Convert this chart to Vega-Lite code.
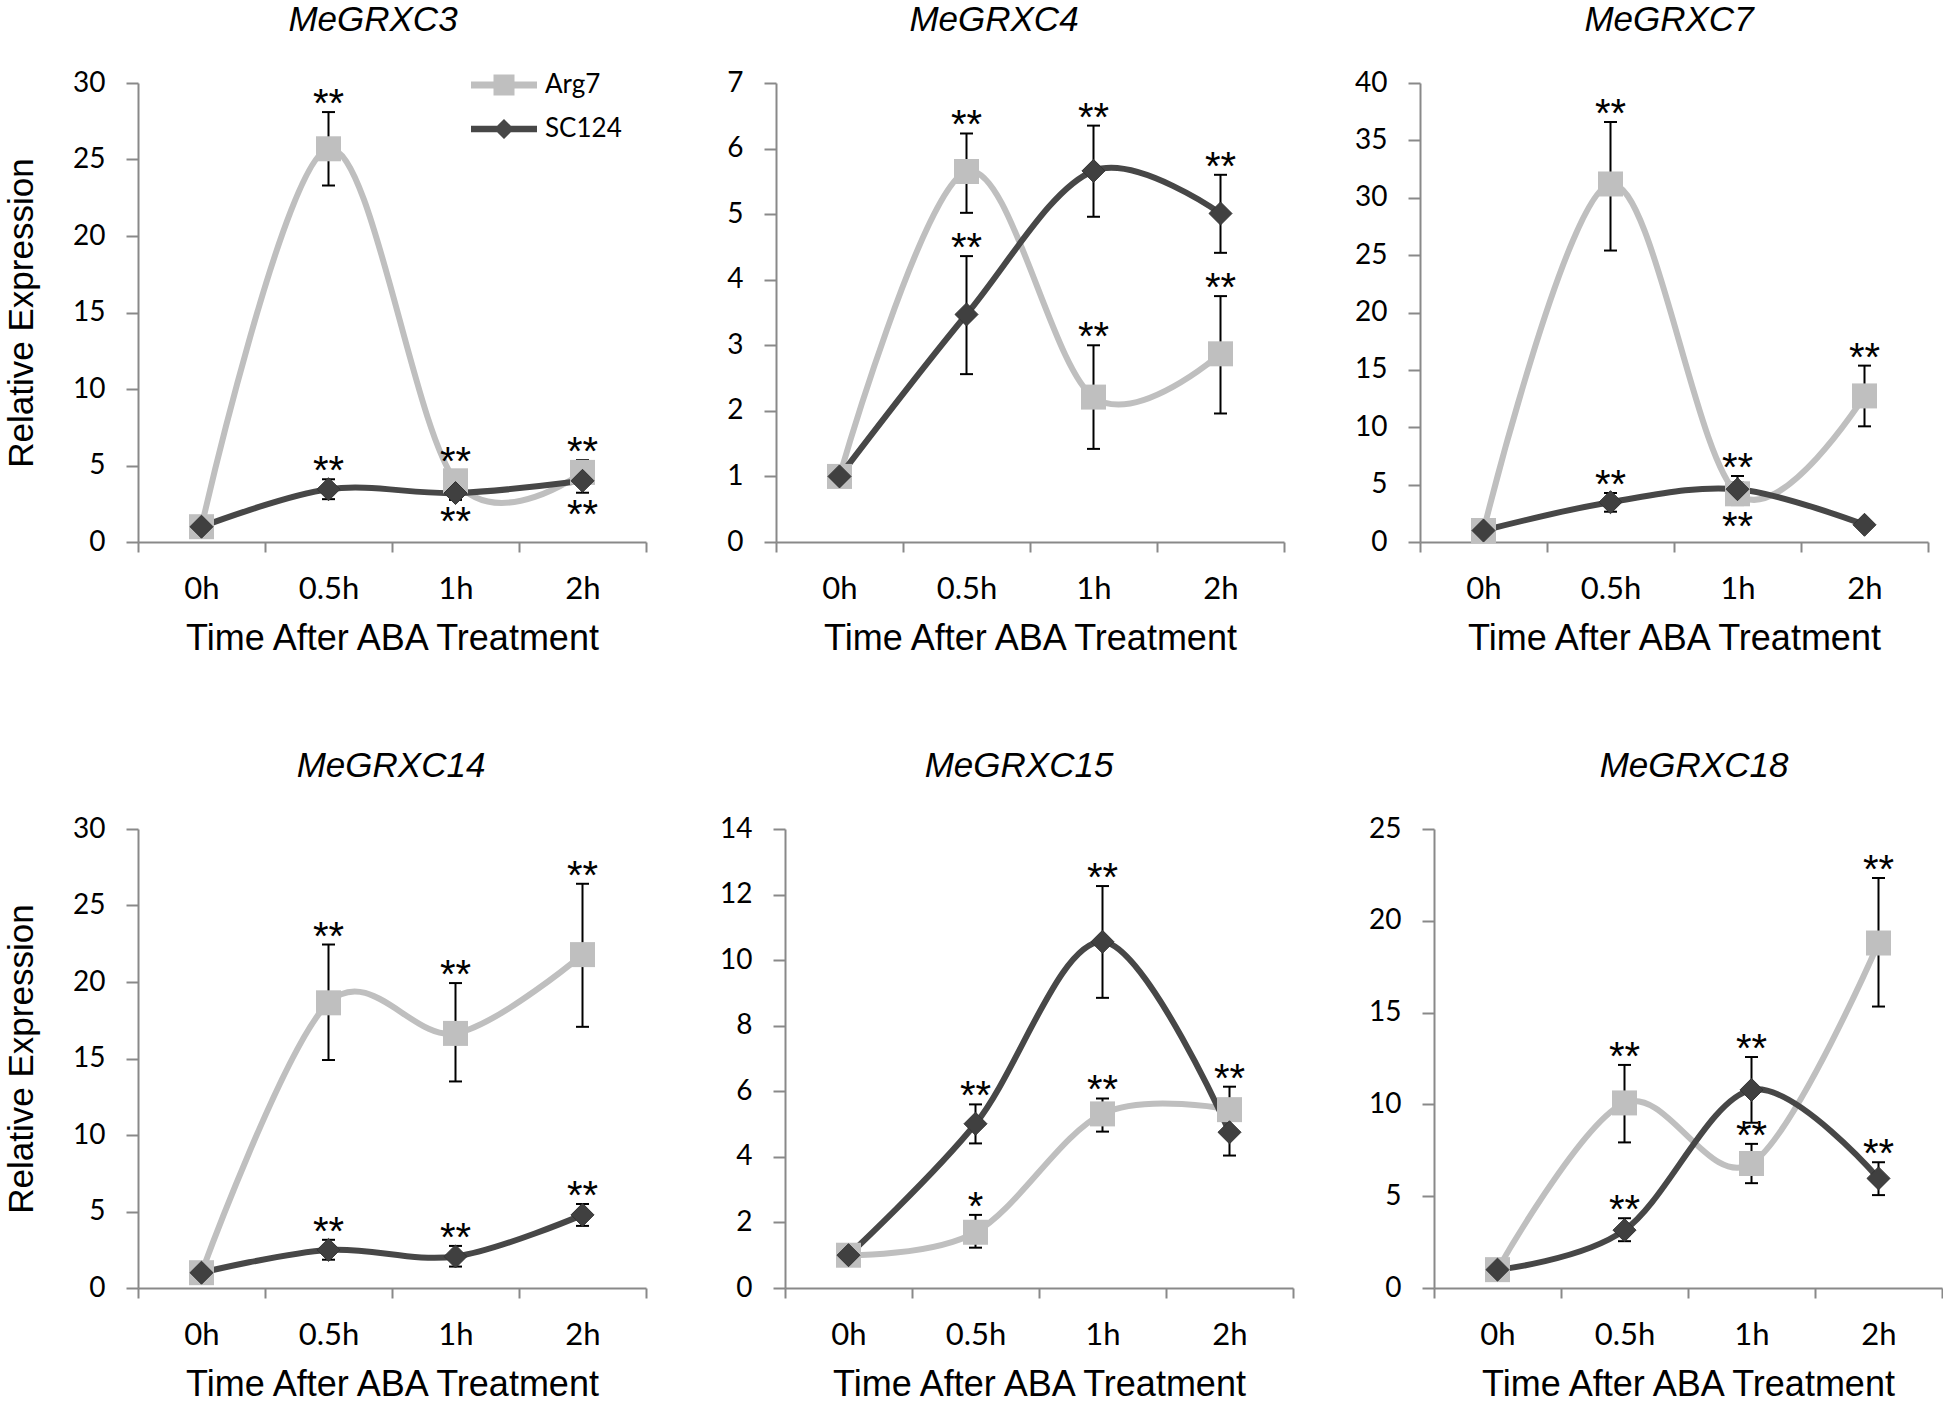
{
  "$schema": "https://vega.github.io/schema/vega-lite/v6.json",
  "padding": {"left": 4, "top": 3, "right": 0, "bottom": 0},
  "background": "white",
  "data": {"values": [
    {"gene": "MeGRXC3", "time": "0h", "series": "Arg7", "mean": 1.0},
    {"gene": "MeGRXC3", "time": "0.5h", "series": "Arg7", "mean": 25.7, "lo": 23.3, "hi": 28.1, "sig": "**", "sigpos": "above"},
    {"gene": "MeGRXC3", "time": "1h", "series": "Arg7", "mean": 4.0, "lo": 3.3, "hi": 4.7, "sig": "**", "sigpos": "above"},
    {"gene": "MeGRXC3", "time": "2h", "series": "Arg7", "mean": 4.55, "lo": 3.75, "hi": 5.35, "sig": "**", "sigpos": "above"},
    {"gene": "MeGRXC3", "time": "0h", "series": "SC124", "mean": 1.0},
    {"gene": "MeGRXC3", "time": "0.5h", "series": "SC124", "mean": 3.45, "lo": 2.8, "hi": 4.1, "sig": "**", "sigpos": "above"},
    {"gene": "MeGRXC3", "time": "1h", "series": "SC124", "mean": 3.2, "lo": 2.75, "hi": 3.65, "sig": "**", "sigpos": "below"},
    {"gene": "MeGRXC3", "time": "2h", "series": "SC124", "mean": 4.0, "lo": 3.22, "hi": 4.78, "sig": "**", "sigpos": "below"},

    {"gene": "MeGRXC4", "time": "0h", "series": "Arg7", "mean": 1.0},
    {"gene": "MeGRXC4", "time": "0.5h", "series": "Arg7", "mean": 5.65, "lo": 5.02, "hi": 6.23, "sig": "**", "sigpos": "above"},
    {"gene": "MeGRXC4", "time": "1h", "series": "Arg7", "mean": 2.21, "lo": 1.42, "hi": 3.0, "sig": "**", "sigpos": "above"},
    {"gene": "MeGRXC4", "time": "2h", "series": "Arg7", "mean": 2.87, "lo": 1.96, "hi": 3.75, "sig": "**", "sigpos": "above"},
    {"gene": "MeGRXC4", "time": "0h", "series": "SC124", "mean": 1.0},
    {"gene": "MeGRXC4", "time": "0.5h", "series": "SC124", "mean": 3.47, "lo": 2.56, "hi": 4.36, "sig": "**", "sigpos": "above"},
    {"gene": "MeGRXC4", "time": "1h", "series": "SC124", "mean": 5.66, "lo": 4.96, "hi": 6.35, "sig": "**", "sigpos": "above"},
    {"gene": "MeGRXC4", "time": "2h", "series": "SC124", "mean": 5.01, "lo": 4.41, "hi": 5.6, "sig": "**", "sigpos": "above"},

    {"gene": "MeGRXC7", "time": "0h", "series": "Arg7", "mean": 1.0},
    {"gene": "MeGRXC7", "time": "0.5h", "series": "Arg7", "mean": 31.2, "lo": 25.4, "hi": 36.6, "sig": "**", "sigpos": "above"},
    {"gene": "MeGRXC7", "time": "1h", "series": "Arg7", "mean": 4.2, "lo": 3.22, "hi": 5.18, "sig": "**", "sigpos": "below"},
    {"gene": "MeGRXC7", "time": "2h", "series": "Arg7", "mean": 12.73, "lo": 10.08, "hi": 15.37, "sig": "**", "sigpos": "above"},
    {"gene": "MeGRXC7", "time": "0h", "series": "SC124", "mean": 1.0},
    {"gene": "MeGRXC7", "time": "0.5h", "series": "SC124", "mean": 3.47, "lo": 2.64, "hi": 4.27, "sig": "**", "sigpos": "above"},
    {"gene": "MeGRXC7", "time": "1h", "series": "SC124", "mean": 4.6, "lo": 3.45, "hi": 5.75, "sig": "**", "sigpos": "above"},
    {"gene": "MeGRXC7", "time": "2h", "series": "SC124", "mean": 1.5},

    {"gene": "MeGRXC14", "time": "0h", "series": "Arg7", "mean": 1.0},
    {"gene": "MeGRXC14", "time": "0.5h", "series": "Arg7", "mean": 18.64, "lo": 14.9, "hi": 22.45, "sig": "**", "sigpos": "above"},
    {"gene": "MeGRXC14", "time": "1h", "series": "Arg7", "mean": 16.64, "lo": 13.5, "hi": 19.93, "sig": "**", "sigpos": "above"},
    {"gene": "MeGRXC14", "time": "2h", "series": "Arg7", "mean": 21.79, "lo": 17.07, "hi": 26.42, "sig": "**", "sigpos": "above"},
    {"gene": "MeGRXC14", "time": "0h", "series": "SC124", "mean": 1.0},
    {"gene": "MeGRXC14", "time": "0.5h", "series": "SC124", "mean": 2.49, "lo": 1.85, "hi": 3.15, "sig": "**", "sigpos": "above"},
    {"gene": "MeGRXC14", "time": "1h", "series": "SC124", "mean": 2.06, "lo": 1.4, "hi": 2.75, "sig": "**", "sigpos": "above"},
    {"gene": "MeGRXC14", "time": "2h", "series": "SC124", "mean": 4.78, "lo": 4.06, "hi": 5.49, "sig": "**", "sigpos": "above"},

    {"gene": "MeGRXC15", "time": "0h", "series": "Arg7", "mean": 1.0},
    {"gene": "MeGRXC15", "time": "0.5h", "series": "Arg7", "mean": 1.7, "lo": 1.23, "hi": 2.23, "sig": "*", "sigpos": "above"},
    {"gene": "MeGRXC15", "time": "1h", "series": "Arg7", "mean": 5.31, "lo": 4.77, "hi": 5.78, "sig": "**", "sigpos": "above"},
    {"gene": "MeGRXC15", "time": "2h", "series": "Arg7", "mean": 5.44, "lo": 4.74, "hi": 6.14, "sig": "**", "sigpos": "above"},
    {"gene": "MeGRXC15", "time": "0h", "series": "SC124", "mean": 1.0},
    {"gene": "MeGRXC15", "time": "0.5h", "series": "SC124", "mean": 5.01, "lo": 4.41, "hi": 5.6, "sig": "**", "sigpos": "above"},
    {"gene": "MeGRXC15", "time": "1h", "series": "SC124", "mean": 10.56, "lo": 8.85, "hi": 12.26, "sig": "**", "sigpos": "above"},
    {"gene": "MeGRXC15", "time": "2h", "series": "SC124", "mean": 4.75, "lo": 4.04, "hi": 5.46},

    {"gene": "MeGRXC18", "time": "0h", "series": "Arg7", "mean": 1.0},
    {"gene": "MeGRXC18", "time": "0.5h", "series": "Arg7", "mean": 10.08, "lo": 7.93, "hi": 12.15, "sig": "**", "sigpos": "above"},
    {"gene": "MeGRXC18", "time": "1h", "series": "Arg7", "mean": 6.78, "lo": 5.71, "hi": 7.85, "sig": "**", "sigpos": "above"},
    {"gene": "MeGRXC18", "time": "2h", "series": "Arg7", "mean": 18.79, "lo": 15.33, "hi": 22.33, "sig": "**", "sigpos": "above"},
    {"gene": "MeGRXC18", "time": "0h", "series": "SC124", "mean": 1.0},
    {"gene": "MeGRXC18", "time": "0.5h", "series": "SC124", "mean": 3.15, "lo": 2.55, "hi": 3.8, "sig": "**", "sigpos": "above"},
    {"gene": "MeGRXC18", "time": "1h", "series": "SC124", "mean": 10.79, "lo": 9.0, "hi": 12.58, "sig": "**", "sigpos": "above"},
    {"gene": "MeGRXC18", "time": "2h", "series": "SC124", "mean": 5.97, "lo": 5.06, "hi": 6.85, "sig": "**", "sigpos": "above"}
  ]},
  "config": {
    "view": {"stroke": null},
    "title": {"font": "Liberation Sans", "fontSize": 35, "fontStyle": "italic", "fontWeight": "normal", "color": "#000000", "anchor": "middle", "frame": "group", "offset": 31, "baseline": "alphabetic"},
    "axis": {"domainColor": "#898989", "domainWidth": 2, "tickColor": "#898989", "tickWidth": 2, "labelColor": "#000000", "labelFont": "Lato", "titleFont": "Liberation Sans", "titleFontWeight": "normal", "titleColor": "#000000", "grid": false},
    "axisX": {"labelFontSize": 31, "labelPadding": 22, "tickSize": 10, "titleFontSize": 36, "titlePadding": 17, "labelAngle": 0, "tickBand": "extent"},
    "axisY": {"labelFontSize": 28, "labelPadding": 21, "tickSize": 12, "titleFontSize": 35, "titlePadding": 33}
  },
  "spacing": 93,
  "resolve": {"scale": {"color": "independent"}},
  "vconcat": [
    {
      "spacing": 130, "bounds": "flush", "resolve": {"scale": {"color": "independent"}},
      "hconcat": [
        {
          "width": 508, "height": 459,
          "title": {"text": "MeGRXC3", "dx": -19},
          "transform": [{"filter": "datum.gene == 'MeGRXC3'"}],
          "encoding": {
            "x": {"field": "time", "type": "nominal", "sort": ["0h", "0.5h", "1h", "2h"], "scale": {"type": "band", "paddingInner": 0, "paddingOuter": 0}, "title": "Time After ABA Treatment"},
            "y": {"field": "mean", "type": "quantitative", "title": "Relative Expression", "scale": {"domain": [0, 30], "nice": false}, "axis": {"values": [0, 5, 10, 15, 20, 25, 30]}}
          },
          "layer": [
            {"transform": [{"filter": "isValid(datum.hi)"}], "mark": {"type": "rule", "color": "#000000", "strokeWidth": 2}, "encoding": {"y": {"field": "lo", "type": "quantitative", "title": "Relative Expression"}, "y2": {"field": "hi"}}},
            {"transform": [{"filter": "isValid(datum.hi)"}], "mark": {"type": "tick", "color": "#000000", "size": 13, "thickness": 2, "opacity": 1}, "encoding": {"y": {"field": "hi", "type": "quantitative", "title": "Relative Expression"}}},
            {"transform": [{"filter": "isValid(datum.lo)"}], "mark": {"type": "tick", "color": "#000000", "size": 13, "thickness": 2, "opacity": 1}, "encoding": {"y": {"field": "lo", "type": "quantitative", "title": "Relative Expression"}}},
            {"mark": {"type": "line", "interpolate": "cardinal", "strokeWidth": 6}, "encoding": {"color": {"field": "series", "type": "nominal", "scale": {"domain": ["Arg7", "SC124"], "range": ["#BFBFBF", "#474747"]},
              "legend": {"orient": "none", "legendX": 353, "legendY": -11, "title": null, "padding": 0, "labelFont": "Lato", "labelFontSize": 26, "labelColor": "#000000", "labelOffset": 28, "symbolSize": 400, "rowPadding": 18, "labelLimit": 200, "symbolStrokeWidth": 0,
                "encode": {"symbols": {"update": {
                  "shape": {"signal": "datum.value === 'Arg7' ? 'M-3.3,-0.35H-1.05V-1.05H1.05V-0.35H3.3V0.35H1.05V1.05H-1.05V0.35H-3.3Z' : 'M-3.3,-0.32H-0.68L0,-1L0.68,-0.32H3.3V0.32H0.68L0,1L-0.68,0.32H-3.3Z'"},
                  "fill": {"signal": "datum.value === 'Arg7' ? '#BFBFBF' : '#474747'"},
                  "strokeWidth": {"value": 0},
                  "opacity": {"value": 1}
                }}}}}}},
            {"transform": [{"filter": "datum.series == 'Arg7'"}], "mark": {"type": "point", "shape": "square", "filled": true, "size": 625, "color": "#BFBFBF", "opacity": 1}},
            {"transform": [{"filter": "datum.series == 'SC124'"}], "mark": {"type": "point", "shape": "diamond", "filled": true, "size": 530, "color": "#404040", "stroke": "#333333", "strokeWidth": 1, "opacity": 1}},
            {"transform": [{"filter": "datum.sigpos == 'above'"}], "mark": {"type": "text", "font": "Liberation Sans", "fontSize": 40, "dy": 5, "baseline": "alphabetic", "color": "#000000"}, "encoding": {"y": {"field": "hi", "type": "quantitative", "title": "Relative Expression"}, "text": {"field": "sig"}}},
            {"transform": [{"filter": "datum.sigpos == 'below'"}], "mark": {"type": "text", "font": "Liberation Sans", "fontSize": 40, "dy": 35, "baseline": "alphabetic", "color": "#000000"}, "encoding": {"y": {"field": "lo", "type": "quantitative", "title": "Relative Expression"}, "text": {"field": "sig"}}}
          ]
        },
        {
          "spacing": 136, "bounds": "flush", "resolve": {"scale": {"color": "independent"}},
          "hconcat": [
            {
              "width": 508, "height": 459,
              "title": {"text": "MeGRXC4", "dx": -36},
              "transform": [{"filter": "datum.gene == 'MeGRXC4'"}],
              "encoding": {
                "x": {"field": "time", "type": "nominal", "sort": ["0h", "0.5h", "1h", "2h"], "scale": {"type": "band", "paddingInner": 0, "paddingOuter": 0}, "title": "Time After ABA Treatment"},
                "y": {"field": "mean", "type": "quantitative", "title": null, "scale": {"domain": [0, 7], "nice": false}, "axis": {"values": [0, 1, 2, 3, 4, 5, 6, 7]}}
              },
              "layer": [
                {"transform": [{"filter": "isValid(datum.hi)"}], "mark": {"type": "rule", "color": "#000000", "strokeWidth": 2}, "encoding": {"y": {"field": "lo", "type": "quantitative", "title": null}, "y2": {"field": "hi"}}},
                {"transform": [{"filter": "isValid(datum.hi)"}], "mark": {"type": "tick", "color": "#000000", "size": 13, "thickness": 2, "opacity": 1}, "encoding": {"y": {"field": "hi", "type": "quantitative", "title": null}}},
                {"transform": [{"filter": "isValid(datum.lo)"}], "mark": {"type": "tick", "color": "#000000", "size": 13, "thickness": 2, "opacity": 1}, "encoding": {"y": {"field": "lo", "type": "quantitative", "title": null}}},
                {"mark": {"type": "line", "interpolate": "cardinal", "strokeWidth": 6}, "encoding": {"color": {"field": "series", "type": "nominal", "scale": {"domain": ["Arg7", "SC124"], "range": ["#BFBFBF", "#474747"]}, "legend": null}}},
                {"transform": [{"filter": "datum.series == 'Arg7'"}], "mark": {"type": "point", "shape": "square", "filled": true, "size": 625, "color": "#BFBFBF", "opacity": 1}},
                {"transform": [{"filter": "datum.series == 'SC124'"}], "mark": {"type": "point", "shape": "diamond", "filled": true, "size": 530, "color": "#404040", "stroke": "#333333", "strokeWidth": 1, "opacity": 1}},
                {"transform": [{"filter": "datum.sigpos == 'above'"}], "mark": {"type": "text", "font": "Liberation Sans", "fontSize": 40, "dy": 5, "baseline": "alphabetic", "color": "#000000"}, "encoding": {"y": {"field": "hi", "type": "quantitative", "title": null}, "text": {"field": "sig"}}},
                {"transform": [{"filter": "datum.sigpos == 'below'"}], "mark": {"type": "text", "font": "Liberation Sans", "fontSize": 40, "dy": 35, "baseline": "alphabetic", "color": "#000000"}, "encoding": {"y": {"field": "lo", "type": "quantitative", "title": null}, "text": {"field": "sig"}}}
              ]
            },
            {
              "width": 508, "height": 459,
              "title": {"text": "MeGRXC7", "dx": -5},
              "transform": [{"filter": "datum.gene == 'MeGRXC7'"}],
              "encoding": {
                "x": {"field": "time", "type": "nominal", "sort": ["0h", "0.5h", "1h", "2h"], "scale": {"type": "band", "paddingInner": 0, "paddingOuter": 0}, "title": "Time After ABA Treatment"},
                "y": {"field": "mean", "type": "quantitative", "title": null, "scale": {"domain": [0, 40], "nice": false}, "axis": {"values": [0, 5, 10, 15, 20, 25, 30, 35, 40]}}
              },
              "layer": [
                {"transform": [{"filter": "isValid(datum.hi)"}], "mark": {"type": "rule", "color": "#000000", "strokeWidth": 2}, "encoding": {"y": {"field": "lo", "type": "quantitative", "title": null}, "y2": {"field": "hi"}}},
                {"transform": [{"filter": "isValid(datum.hi)"}], "mark": {"type": "tick", "color": "#000000", "size": 13, "thickness": 2, "opacity": 1}, "encoding": {"y": {"field": "hi", "type": "quantitative", "title": null}}},
                {"transform": [{"filter": "isValid(datum.lo)"}], "mark": {"type": "tick", "color": "#000000", "size": 13, "thickness": 2, "opacity": 1}, "encoding": {"y": {"field": "lo", "type": "quantitative", "title": null}}},
                {"mark": {"type": "line", "interpolate": "cardinal", "strokeWidth": 6}, "encoding": {"color": {"field": "series", "type": "nominal", "scale": {"domain": ["Arg7", "SC124"], "range": ["#BFBFBF", "#474747"]}, "legend": null}}},
                {"transform": [{"filter": "datum.series == 'Arg7'"}], "mark": {"type": "point", "shape": "square", "filled": true, "size": 625, "color": "#BFBFBF", "opacity": 1}},
                {"transform": [{"filter": "datum.series == 'SC124'"}], "mark": {"type": "point", "shape": "diamond", "filled": true, "size": 530, "color": "#404040", "stroke": "#333333", "strokeWidth": 1, "opacity": 1}},
                {"transform": [{"filter": "datum.sigpos == 'above'"}], "mark": {"type": "text", "font": "Liberation Sans", "fontSize": 40, "dy": 5, "baseline": "alphabetic", "color": "#000000"}, "encoding": {"y": {"field": "hi", "type": "quantitative", "title": null}, "text": {"field": "sig"}}},
                {"transform": [{"filter": "datum.sigpos == 'below'"}], "mark": {"type": "text", "font": "Liberation Sans", "fontSize": 40, "dy": 35, "baseline": "alphabetic", "color": "#000000"}, "encoding": {"y": {"field": "lo", "type": "quantitative", "title": null}, "text": {"field": "sig"}}}
              ]
            }
          ]
        }
      ]
    },
    {
      "spacing": 139, "bounds": "flush", "resolve": {"scale": {"color": "independent"}},
      "hconcat": [
        {
          "width": 508, "height": 459,
          "title": {"text": "MeGRXC14", "dx": -1},
          "transform": [{"filter": "datum.gene == 'MeGRXC14'"}],
          "encoding": {
            "x": {"field": "time", "type": "nominal", "sort": ["0h", "0.5h", "1h", "2h"], "scale": {"type": "band", "paddingInner": 0, "paddingOuter": 0}, "title": "Time After ABA Treatment"},
            "y": {"field": "mean", "type": "quantitative", "title": "Relative Expression", "scale": {"domain": [0, 30], "nice": false}, "axis": {"values": [0, 5, 10, 15, 20, 25, 30]}}
          },
          "layer": [
            {"transform": [{"filter": "isValid(datum.hi)"}], "mark": {"type": "rule", "color": "#000000", "strokeWidth": 2}, "encoding": {"y": {"field": "lo", "type": "quantitative", "title": "Relative Expression"}, "y2": {"field": "hi"}}},
            {"transform": [{"filter": "isValid(datum.hi)"}], "mark": {"type": "tick", "color": "#000000", "size": 13, "thickness": 2, "opacity": 1}, "encoding": {"y": {"field": "hi", "type": "quantitative", "title": "Relative Expression"}}},
            {"transform": [{"filter": "isValid(datum.lo)"}], "mark": {"type": "tick", "color": "#000000", "size": 13, "thickness": 2, "opacity": 1}, "encoding": {"y": {"field": "lo", "type": "quantitative", "title": "Relative Expression"}}},
            {"mark": {"type": "line", "interpolate": "cardinal", "strokeWidth": 6}, "encoding": {"color": {"field": "series", "type": "nominal", "scale": {"domain": ["Arg7", "SC124"], "range": ["#BFBFBF", "#474747"]}, "legend": null}}},
            {"transform": [{"filter": "datum.series == 'Arg7'"}], "mark": {"type": "point", "shape": "square", "filled": true, "size": 625, "color": "#BFBFBF", "opacity": 1}},
            {"transform": [{"filter": "datum.series == 'SC124'"}], "mark": {"type": "point", "shape": "diamond", "filled": true, "size": 530, "color": "#404040", "stroke": "#333333", "strokeWidth": 1, "opacity": 1}},
            {"transform": [{"filter": "datum.sigpos == 'above'"}], "mark": {"type": "text", "font": "Liberation Sans", "fontSize": 40, "dy": 5, "baseline": "alphabetic", "color": "#000000"}, "encoding": {"y": {"field": "hi", "type": "quantitative", "title": "Relative Expression"}, "text": {"field": "sig"}}},
            {"transform": [{"filter": "datum.sigpos == 'below'"}], "mark": {"type": "text", "font": "Liberation Sans", "fontSize": 40, "dy": 35, "baseline": "alphabetic", "color": "#000000"}, "encoding": {"y": {"field": "lo", "type": "quantitative", "title": "Relative Expression"}, "text": {"field": "sig"}}}
          ]
        },
        {
          "spacing": 141, "bounds": "flush", "resolve": {"scale": {"color": "independent"}},
          "hconcat": [
            {
              "width": 508, "height": 459,
              "title": {"text": "MeGRXC15", "dx": -20},
              "transform": [{"filter": "datum.gene == 'MeGRXC15'"}],
              "encoding": {
                "x": {"field": "time", "type": "nominal", "sort": ["0h", "0.5h", "1h", "2h"], "scale": {"type": "band", "paddingInner": 0, "paddingOuter": 0}, "title": "Time After ABA Treatment"},
                "y": {"field": "mean", "type": "quantitative", "title": null, "scale": {"domain": [0, 14], "nice": false}, "axis": {"values": [0, 2, 4, 6, 8, 10, 12, 14]}}
              },
              "layer": [
                {"transform": [{"filter": "isValid(datum.hi)"}], "mark": {"type": "rule", "color": "#000000", "strokeWidth": 2}, "encoding": {"y": {"field": "lo", "type": "quantitative", "title": null}, "y2": {"field": "hi"}}},
                {"transform": [{"filter": "isValid(datum.hi)"}], "mark": {"type": "tick", "color": "#000000", "size": 13, "thickness": 2, "opacity": 1}, "encoding": {"y": {"field": "hi", "type": "quantitative", "title": null}}},
                {"transform": [{"filter": "isValid(datum.lo)"}], "mark": {"type": "tick", "color": "#000000", "size": 13, "thickness": 2, "opacity": 1}, "encoding": {"y": {"field": "lo", "type": "quantitative", "title": null}}},
                {"mark": {"type": "line", "interpolate": "cardinal", "strokeWidth": 6}, "encoding": {"color": {"field": "series", "type": "nominal", "scale": {"domain": ["Arg7", "SC124"], "range": ["#BFBFBF", "#474747"]}, "legend": null}}},
                {"transform": [{"filter": "datum.series == 'Arg7'"}], "mark": {"type": "point", "shape": "square", "filled": true, "size": 625, "color": "#BFBFBF", "opacity": 1}},
                {"transform": [{"filter": "datum.series == 'SC124'"}], "mark": {"type": "point", "shape": "diamond", "filled": true, "size": 530, "color": "#404040", "stroke": "#333333", "strokeWidth": 1, "opacity": 1}},
                {"transform": [{"filter": "datum.sigpos == 'above'"}], "mark": {"type": "text", "font": "Liberation Sans", "fontSize": 40, "dy": 5, "baseline": "alphabetic", "color": "#000000"}, "encoding": {"y": {"field": "hi", "type": "quantitative", "title": null}, "text": {"field": "sig"}}},
                {"transform": [{"filter": "datum.sigpos == 'below'"}], "mark": {"type": "text", "font": "Liberation Sans", "fontSize": 40, "dy": 35, "baseline": "alphabetic", "color": "#000000"}, "encoding": {"y": {"field": "lo", "type": "quantitative", "title": null}, "text": {"field": "sig"}}}
              ]
            },
            {
              "width": 508, "height": 459,
              "title": {"text": "MeGRXC18", "dx": 6},
              "transform": [{"filter": "datum.gene == 'MeGRXC18'"}],
              "encoding": {
                "x": {"field": "time", "type": "nominal", "sort": ["0h", "0.5h", "1h", "2h"], "scale": {"type": "band", "paddingInner": 0, "paddingOuter": 0}, "title": "Time After ABA Treatment"},
                "y": {"field": "mean", "type": "quantitative", "title": null, "scale": {"domain": [0, 25], "nice": false}, "axis": {"values": [0, 5, 10, 15, 20, 25]}}
              },
              "layer": [
                {"transform": [{"filter": "isValid(datum.hi)"}], "mark": {"type": "rule", "color": "#000000", "strokeWidth": 2}, "encoding": {"y": {"field": "lo", "type": "quantitative", "title": null}, "y2": {"field": "hi"}}},
                {"transform": [{"filter": "isValid(datum.hi)"}], "mark": {"type": "tick", "color": "#000000", "size": 13, "thickness": 2, "opacity": 1}, "encoding": {"y": {"field": "hi", "type": "quantitative", "title": null}}},
                {"transform": [{"filter": "isValid(datum.lo)"}], "mark": {"type": "tick", "color": "#000000", "size": 13, "thickness": 2, "opacity": 1}, "encoding": {"y": {"field": "lo", "type": "quantitative", "title": null}}},
                {"mark": {"type": "line", "interpolate": "cardinal", "strokeWidth": 6}, "encoding": {"color": {"field": "series", "type": "nominal", "scale": {"domain": ["Arg7", "SC124"], "range": ["#BFBFBF", "#474747"]}, "legend": null}}},
                {"transform": [{"filter": "datum.series == 'Arg7'"}], "mark": {"type": "point", "shape": "square", "filled": true, "size": 625, "color": "#BFBFBF", "opacity": 1}},
                {"transform": [{"filter": "datum.series == 'SC124'"}], "mark": {"type": "point", "shape": "diamond", "filled": true, "size": 530, "color": "#404040", "stroke": "#333333", "strokeWidth": 1, "opacity": 1}},
                {"transform": [{"filter": "datum.sigpos == 'above'"}], "mark": {"type": "text", "font": "Liberation Sans", "fontSize": 40, "dy": 5, "baseline": "alphabetic", "color": "#000000"}, "encoding": {"y": {"field": "hi", "type": "quantitative", "title": null}, "text": {"field": "sig"}}},
                {"transform": [{"filter": "datum.sigpos == 'below'"}], "mark": {"type": "text", "font": "Liberation Sans", "fontSize": 40, "dy": 35, "baseline": "alphabetic", "color": "#000000"}, "encoding": {"y": {"field": "lo", "type": "quantitative", "title": null}, "text": {"field": "sig"}}}
              ]
            }
          ]
        }
      ]
    }
  ]
}
